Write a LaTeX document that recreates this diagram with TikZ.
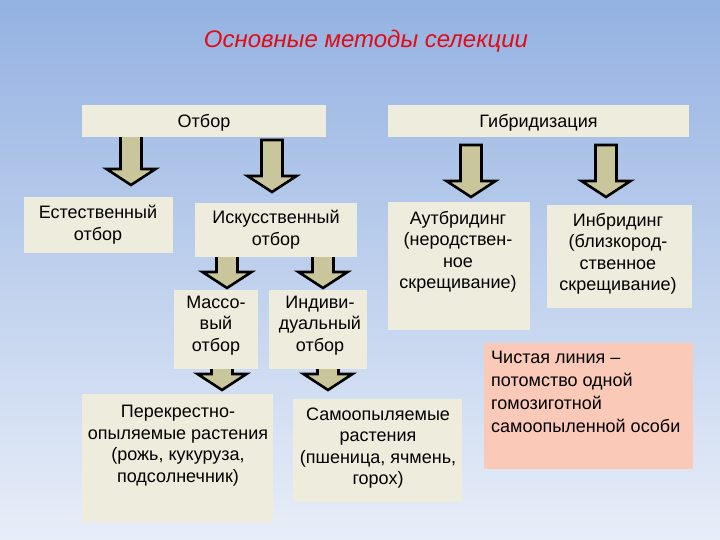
\documentclass[tikz,border=0pt]{standalone}
\usepackage{fontspec}
\setmainfont{Liberation Sans}
\usetikzlibrary{calc}
\pgfdeclarelayer{bg}
\pgfdeclarelayer{arr}
\pgfsetlayers{bg,arr,main}
\definecolor{bgtop}{RGB}{148,178,226}
\definecolor{bgbot}{RGB}{232,238,248}
\definecolor{boxc}{RGB}{238,236,220}
\definecolor{pinkc}{RGB}{251,201,184}
\definecolor{arrc}{RGB}{201,198,156}
\definecolor{titlec}{RGB}{225,12,20}
\tikzset{
  box/.style={fill=boxc, draw=none, inner sep=0pt, outer sep=0pt},
  pinkbox/.style={box, fill=pinkc},
  txt/.style={align=center, inner sep=0pt, font=\fontsize{18}{21.5}\selectfont},
  ltxt/.style={align=left, inner sep=0pt, font=\fontsize{18}{23}\selectfont},
  titletxt/.style={inner sep=0pt, text=titlec, font=\fontsize{24}{29}\selectfont\itshape},
  blk/.style={fill=arrc, draw=black, line width=2.6pt, line join=miter},
}
% block arrow: x, from node, to node, top offset (up +), tip offset above target (up +)
\newcommand\barrow[5]{%
\begin{pgfonlayer}{arr}
\draw[blk] let \p1=(#1,0 |- #2.south), \p2=(#1,0 |- #3.north) in
  ({\x1-10.5pt},{\y1+(#4)}) -- ({\x1+10.5pt},{\y1+(#4)}) --
  ({\x1+10.5pt},{\y2+(#5)+16pt}) -- ({\x1+24.5pt},{\y2+(#5)+16pt}) --
  (\x1,{\y2+(#5)}) -- ({\x1-24.5pt},{\y2+(#5)+16pt}) --
  ({\x1-10.5pt},{\y2+(#5)+16pt}) -- cycle;
\end{pgfonlayer}}
\begin{document}
\begin{tikzpicture}[x=1pt,y=-1pt]
\begin{pgfonlayer}{bg}
\shade[top color=bgtop, bottom color=bgbot] (0,0) rectangle (720,540);
\end{pgfonlayer}
\useasboundingbox (0,0) rectangle (720,540);

\node[titletxt] (title) at (366,41) {Основные методы селекции};

% boxes
\node[box, minimum width=244pt, minimum height=32pt] (otbor) at (204,121) {};
\node[box, minimum width=301pt, minimum height=32pt] (gibr) at (538.5,121) {};
\node[box, minimum width=149pt, minimum height=56pt] (estest) at (98.5,225) {};
\node[box, minimum width=162pt, minimum height=54pt] (iskus) at (276,230) {};
\node[box, minimum width=142pt, minimum height=128pt] (aut) at (459,266) {};
\node[box, minimum width=145pt, minimum height=103pt] (inbr) at (619.5,256.5) {};
\node[box, minimum width=84pt, minimum height=79pt] (masso) at (216,329.5) {};
\node[box, minimum width=98pt, minimum height=79pt] (indiv) at (318,329.5) {};
\node[box, minimum width=191pt, minimum height=128pt] (perek) at (177.5,458) {};
\node[box, minimum width=169pt, minimum height=103pt] (samo) at (377.5,450.5) {};
\node[pinkbox, minimum width=209pt, minimum height=126pt] (clean) at (588.5,406) {};

% texts
\node[txt] (otbor-t) at (204,122.5) {Отбор};
\node[txt] (gibr-t) at (538.5,122.5) {Гибридизация};
\node[txt] (estest-t) at (98,224.5) {Естественный\\отбор};
\node[txt] (iskus-t) at (276,229.5) {Искусственный\\отбор};
\node[txt] (aut-t) at (458,252) {Аутбридинг\\(неродствен-\\ное\\скрещивание)};
\node[txt] (inbr-t) at (618,254) {Инбридинг\\(близкород-\\ственное\\скрещивание)};
\node[txt] (masso-t) at (216,325.5) {Массо-\\вый\\отбор};
\node[txt] (indiv-t) at (320,325.5) {Индиви-\\дуальный\\отбор};
\node[txt] (perek-t) at (178,445.5) {Перекрестно-\\опыляемые растения\\(рожь, кукуруза,\\подсолнечник)};
\node[txt] (samo-t) at (378,448) {Самоопыляемые\\растения\\(пшеница, ячмень,\\горох)};
\node[ltxt, anchor=west] (clean-t) at (491,392) {Чистая линия –\\потомство одной\\гомозиготной\\самоопыленной особи};

% block arrows
\barrow{131}{otbor}{estest}{4pt}{12pt}
\barrow{272}{otbor}{iskus}{-3pt}{11pt}
\barrow{471}{gibr}{aut}{-8pt}{5pt}
\barrow{606}{gibr}{inbr}{-8pt}{8pt}
\barrow{227}{iskus}{masso}{4pt}{2pt}
\barrow{323}{iskus}{indiv}{4pt}{2pt}
\barrow{222}{masso}{perek}{4pt}{4pt}
\barrow{328}{indiv}{samo}{4pt}{9pt}
\end{tikzpicture}
\end{document}
